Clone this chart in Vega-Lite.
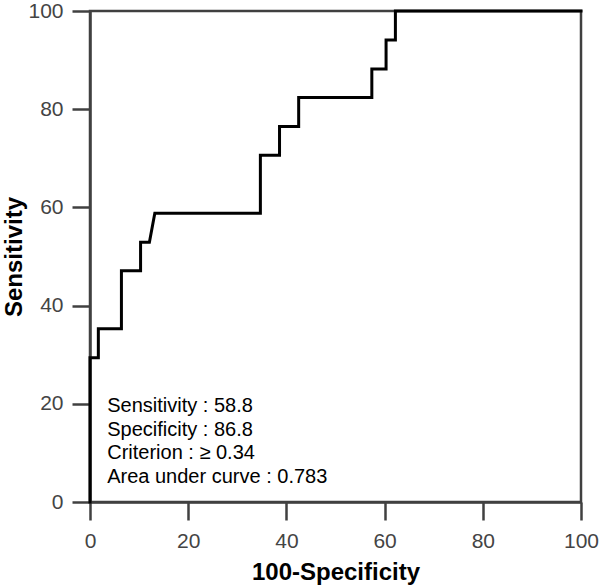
{
  "$schema": "https://vega.github.io/schema/vega-lite/v6.json",
  "width": 491,
  "height": 491,
  "autosize": {"type": "none"},
  "padding": {"left": 90, "top": 11, "right": 19, "bottom": 85},
  "config": {
    "font": "Liberation Sans",
    "view": {"stroke": "#404040", "strokeWidth": 2.5},
    "axis": {
      "grid": false,
      "domainColor": "#404040",
      "domainWidth": 2.5,
      "tickColor": "#404040",
      "tickWidth": 2.5,
      "tickSize": 18,
      "labelFontSize": 21,
      "labelColor": "#444444",
      "labelFont": "Liberation Sans",
      "labelFlush": false,
      "titleFont": "Liberation Sans",
      "titleFontSize": 24,
      "titleFontWeight": "bold",
      "titleColor": "#000000"
    }
  },
  "datasets": {
    "roc": [
      {"i": 0, "fpr": 0, "sens": 0},
      {"i": 1, "fpr": 0, "sens": 29.4},
      {"i": 2, "fpr": 1.7, "sens": 29.4},
      {"i": 3, "fpr": 1.7, "sens": 35.3},
      {"i": 4, "fpr": 6.4, "sens": 35.3},
      {"i": 5, "fpr": 6.4, "sens": 47.1},
      {"i": 6, "fpr": 10.3, "sens": 47.1},
      {"i": 7, "fpr": 10.3, "sens": 52.9},
      {"i": 8, "fpr": 12.1, "sens": 52.9},
      {"i": 9, "fpr": 13.2, "sens": 58.8},
      {"i": 10, "fpr": 34.7, "sens": 58.8},
      {"i": 11, "fpr": 34.7, "sens": 70.6},
      {"i": 12, "fpr": 38.6, "sens": 70.6},
      {"i": 13, "fpr": 38.6, "sens": 76.5},
      {"i": 14, "fpr": 42.5, "sens": 76.5},
      {"i": 15, "fpr": 42.5, "sens": 82.4},
      {"i": 16, "fpr": 57.4, "sens": 82.4},
      {"i": 17, "fpr": 57.4, "sens": 88.2},
      {"i": 18, "fpr": 60.3, "sens": 88.2},
      {"i": 19, "fpr": 60.3, "sens": 94.1},
      {"i": 20, "fpr": 62.2, "sens": 94.1},
      {"i": 21, "fpr": 62.2, "sens": 100},
      {"i": 22, "fpr": 100, "sens": 100}
    ],
    "notes": [
      {"x": 3.5, "y": 18.4, "label": "Sensitivity : 58.8"},
      {"x": 3.5, "y": 13.5, "label": "Specificity : 86.8"},
      {"x": 3.5, "y": 8.7, "label": "Criterion : ≥ 0.34"},
      {"x": 3.5, "y": 3.8, "label": "Area under curve : 0.783"}
    ]
  },
  "layer": [
    {
      "data": {"name": "roc"},
      "mark": {"type": "line", "color": "#000000", "strokeWidth": 3, "strokeJoin": "miter", "strokeCap": "square", "clip": false},
      "encoding": {
        "x": {
          "field": "fpr", "type": "quantitative",
          "scale": {"domain": [0, 100], "nice": false, "zero": false},
          "axis": {
            "values": [0, 20, 40, 60, 80, 100],
            "title": "100-Specificity",
            "labelPadding": 10,
            "titleX": 245.5,
            "titleY": 77,
            "titleAlign": "center",
            "titleBaseline": "alphabetic",
            "titleAnchor": null
          }
        },
        "y": {
          "field": "sens", "type": "quantitative",
          "scale": {"domain": [0, 100], "nice": false, "zero": false},
          "axis": {
            "values": [0, 20, 40, 60, 80, 100],
            "title": "Sensitivity",
            "labelPadding": 9,
            "titleX": -69,
            "titleY": 245.5,
            "titleAngle": -90,
            "titleAlign": "center",
            "titleBaseline": "alphabetic",
            "titleAnchor": null
          }
        },
        "order": {"field": "i", "type": "quantitative"}
      }
    },
    {
      "data": {"name": "notes"},
      "mark": {"type": "text", "align": "left", "baseline": "alphabetic", "fontSize": 20, "color": "#000000", "font": "Liberation Sans"},
      "encoding": {
        "x": {"field": "x", "type": "quantitative"},
        "y": {"field": "y", "type": "quantitative"},
        "text": {"field": "label"}
      }
    }
  ]
}
